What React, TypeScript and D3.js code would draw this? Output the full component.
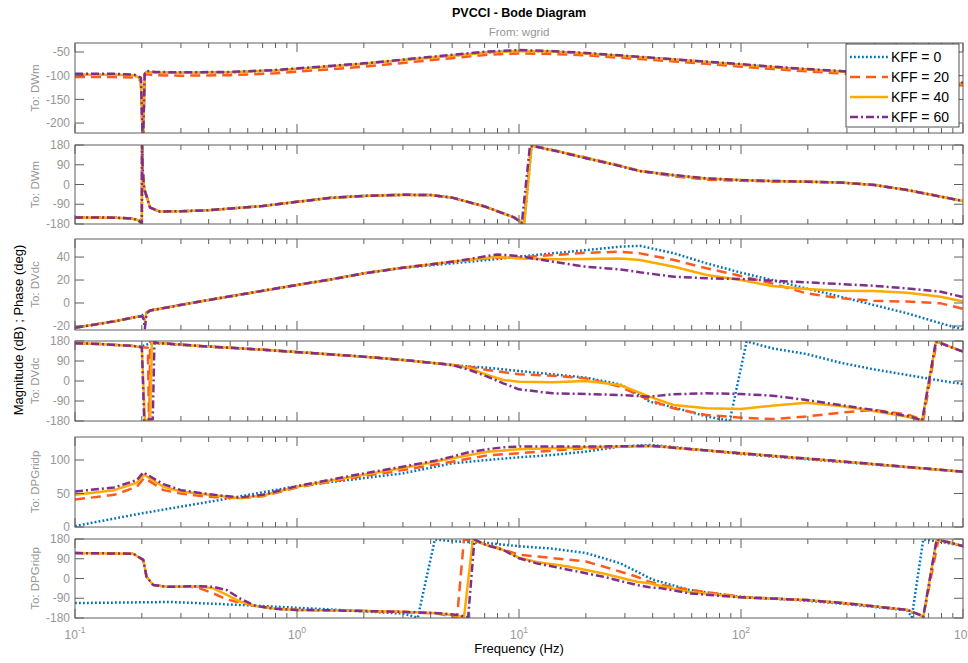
import React from "react";
import * as d3 from "d3";

type Pt = [number, number];

const seriesLabels = ["KFF = 0", "KFF = 20", "KFF = 40", "KFF = 60"];
const seriesColors = ["#0072bd", "#ff5a1e", "#ffaa00", "#7e2f8e"];
const seriesDash = ["1.8,2.2", "10,6", "", "8,3,2,3"];
const outputNames = ["To: DWm", "To: DWm", "To: DVdc", "To: DVdc", "To: DPGridp", "To: DPGridp"];
const decadeTicks = [0.1, 1, 10, 100, 1000];
const decadeExps = ["-1", "0", "1", "2", "3"];
const magTicksDWm = [-200, -150, -100, -50];
const magTicksDVdc = [-20, 0, 20, 40];
const magTicksDPG = [0, 50, 100];
const phaseTicks = [-180, -90, 0, 90, 180];

// --- To: DWm, magnitude (dB)
const magDWmK40: Pt[] = [[0.1,-98],[0.15,-98],[0.185,-99],[0.198,-106],[0.2015,-222],[0.203,-222],[0.206,-98],[0.21,-92],[0.23,-94],[0.3,-94],[0.5,-93],[0.8,-89],[1.27,-82],[2,-75],[3,-67],[5,-58],[7.2,-51],[10,-48],[14,-49],[20,-53],[35,-61],[50,-66],[70,-71],[100,-77],[140,-82],[200,-87],[280,-91],[500,-101],[1000,-117]];
const magDWmK0: Pt[] = [[0.1,-98],[0.15,-98],[0.185,-99],[0.198,-106],[0.2015,-222],[0.203,-222],[0.206,-98],[0.21,-92],[0.23,-94],[0.3,-94],[0.5,-93],[0.8,-89],[1.27,-82],[2,-75],[3,-67],[5,-58],[7.2,-51],[10,-48],[14,-49],[20,-53],[35,-61],[50,-66],[70,-71],[100,-77],[140,-82],[200,-87],[280,-91],[500,-101],[1000,-117]];
const magDWmK20: Pt[] = [[0.1,-103],[0.15,-103],[0.185,-104],[0.198,-110],[0.2015,-222],[0.203,-222],[0.206,-101],[0.21,-97],[0.23,-99],[0.3,-100],[0.5,-99],[0.8,-95],[1.27,-88],[2,-81],[3,-73],[5,-63],[7.2,-56],[10,-53],[14,-54],[20,-57],[35,-65],[50,-70],[70,-75],[100,-81],[140,-86],[200,-91],[280,-95],[500,-105],[1000,-121]];
const magDWmK60: Pt[] = [[0.1,-96],[0.15,-96],[0.185,-98],[0.198,-104],[0.2015,-222],[0.203,-222],[0.206,-96],[0.21,-90],[0.23,-92],[0.3,-93],[0.5,-92],[0.8,-88],[1.27,-81],[2,-74],[3,-66],[5,-56],[7.2,-49],[10,-46],[14,-48],[20,-52],[35,-60],[50,-65.5],[70,-70.5],[100,-75.5],[140,-81],[200,-86],[280,-90],[500,-100],[1000,-115]];

// --- To: DWm, phase (deg)
const phDWmK0: Pt[] = [[0.1,-150],[0.15,-151],[0.18,-155],[0.193,-163],[0.2,-178],[0.2005,179],[0.202,60],[0.205,-20],[0.218,-105],[0.241,-123],[0.3,-122],[0.4,-117],[0.7,-98],[1.4,-61],[2,-52],[3,-47],[4,-48],[5,-60],[7,-100],[9.5,-150],[10.55,-178],[11.4,176],[12,172],[15,151],[20,121],[28,87],[35,62],[50,40],[70,25],[100,19],[140,15],[200,12],[280,9],[400,-2],[560,-25],[800,-56],[1000,-75]];
const phDWmK20: Pt[] = [[0.1,-150],[0.15,-151],[0.18,-155],[0.193,-163],[0.2,-178],[0.2005,179],[0.202,60],[0.205,-20],[0.218,-105],[0.241,-123],[0.3,-122],[0.4,-117],[0.7,-98],[1.4,-61],[2,-52],[3,-47],[4,-48],[5,-60],[7,-100],[9.5,-150],[10.5,-178],[11.3,176],[12,172],[15,152],[20,123],[28,88],[35,62],[50,37],[70,22],[100,17],[140,14],[200,12],[280,9],[400,-2],[560,-25],[800,-56],[1000,-75]];
const phDWmK40: Pt[] = [[0.1,-150],[0.15,-151],[0.18,-155],[0.193,-163],[0.2,-178],[0.2005,179],[0.202,60],[0.205,-20],[0.218,-105],[0.241,-123],[0.3,-122],[0.4,-117],[0.7,-98],[1.4,-61],[2,-52],[3,-47],[4,-48],[5,-60],[7,-100],[9.5,-150],[10.55,-178],[11.4,176],[12,172],[15,151],[20,121],[28,87],[35,62],[50,42],[70,27],[100,20],[140,16],[200,13],[280,9],[400,-2],[560,-25],[800,-56],[1000,-75]];
const phDWmK60: Pt[] = [[0.1,-150],[0.15,-151],[0.18,-155],[0.193,-163],[0.2,-178],[0.2005,179],[0.202,60],[0.205,-20],[0.218,-105],[0.241,-123],[0.3,-122],[0.4,-117],[0.7,-98],[1.4,-61],[2,-52],[3,-47],[4,-48],[5,-60],[7,-100],[9.5,-150],[10.3,-176],[11.2,176],[12,172],[15,150],[20,120],[28,86],[35,61],[50,43],[70,28],[100,20],[140,16],[200,13],[280,9],[400,-2],[560,-25],[800,-56],[1000,-75]];

// --- To: DVdc, magnitude (dB)
const magDVdcK0: Pt[] = [[0.1,-21.5],[0.15,-16],[0.19,-12],[0.2,-11],[0.21,-8.5],[0.218,-6.5],[0.365,1.3],[0.5,5.8],[1,15.7],[1.4,20.3],[2,25.8],[3,30.7],[3.6,32],[5,34.5],[8,38.3],[10,40.3],[14.2,43.2],[20,46],[28.5,49],[35,49.8],[50,43.2],[70,34.5],[100,26.4],[138,20],[197,12.7],[280,5.5],[396,-1.7],[561,-9],[794,-17.7],[1000,-23]];
const magDVdcK20: Pt[] = [[0.1,-21.5],[0.15,-16],[0.19,-12],[0.2,-11.5],[0.203,-13],[0.206,-14],[0.21,-8],[0.218,-6.5],[0.365,1.3],[0.5,5.8],[1,15.7],[1.4,20.3],[2,25.8],[3,30.7],[5,35.9],[8,39.7],[10,39.7],[14.2,41.7],[20,43.7],[28.5,44.6],[35,43.2],[50,37.4],[70,30.2],[100,23.5],[138,17.1],[197,8.4],[280,4.1],[396,2],[561,1.2],[794,-0.3],[1000,-5]];
const magDVdcK40: Pt[] = [[0.1,-21.5],[0.15,-16],[0.19,-12],[0.2,-11.5],[0.203,-13],[0.206,-15],[0.21,-8],[0.218,-6.5],[0.365,1.3],[0.5,5.8],[1,15.7],[1.4,20.3],[2,25.8],[3,30.7],[5,35.9],[8,40.3],[10,38.8],[14.2,38],[20,38.3],[28.5,38.8],[35,37.4],[50,31.6],[70,24.3],[100,20],[138,14.8],[197,12.2],[280,10.7],[396,10.4],[561,9],[794,5.5],[1000,1.2]];
const magDVdcK60: Pt[] = [[0.1,-21.5],[0.15,-16],[0.19,-12],[0.2,-11.5],[0.203,-13],[0.2065,-22],[0.21,-9],[0.218,-6.5],[0.365,1.3],[0.5,5.8],[1,15.7],[1.4,20.3],[2,25.8],[3,30.7],[5,35.9],[8,42.3],[10,40.9],[14.2,35.9],[20,31.6],[28.5,29.3],[35,26.7],[50,22.9],[70,21.5],[100,20.9],[138,19.4],[197,18],[280,16.5],[396,15],[561,12.7],[794,9.8],[1000,5.2]];

// --- To: DVdc, phase (deg)
const phDVdcK0: Pt[] = [[0.1,170],[0.13,166.5],[0.183,157.5],[0.2,154],[0.205,160],[0.215,167],[0.233,170],[0.365,157.5],[0.73,139.5],[1.4,120],[2,109.5],[3,94.5],[4,82.4],[5,72],[6,64.5],[7.2,60],[10,45],[14.2,30],[20,15],[28.5,-15],[35,-63],[38.7,-93],[49.6,-118],[70,-160],[82,-172],[89,-178],[106,178],[138,147],[197,121.5],[280,82.5],[396,52.5],[561,27],[794,1.5],[1000,-13.5]];
const phDVdcK20: Pt[] = [[0.1,170],[0.13,166.5],[0.183,157.5],[0.2,152],[0.213,150],[0.2155,-178],[0.2165,-178],[0.218,178],[0.233,171],[0.365,157.5],[0.73,139.5],[1.4,120],[2,109.5],[3,94.5],[4,82.4],[5,72],[6,64.5],[7.2,49.5],[10,30],[14.2,24],[20,12],[28.5,-25.5],[38.7,-85.5],[49.6,-123],[70,-153],[100,-165],[138,-171],[197,-160],[280,-142.5],[396,-130.5],[561,-150],[662,-176],[761,178],[1000,132]];
const phDVdcK40: Pt[] = [[0.1,170],[0.13,166.5],[0.183,157.5],[0.2,152],[0.2065,-178],[0.218,-176],[0.222,178],[0.233,171],[0.365,157.5],[0.73,139.5],[1.4,120],[2,109.5],[3,94.5],[4,82.4],[5,72],[6,57],[7.2,27],[8.5,4.5],[10,-3],[14.2,-5.5],[20,0],[28.5,-18],[38.7,-70.5],[49.6,-108],[70,-123],[100,-126],[138,-111],[197,-97.5],[280,-112.5],[396,-135],[561,-160.5],[655,-177],[755,178],[1000,132]];
const phDVdcK60: Pt[] = [[0.1,170],[0.13,166.5],[0.183,157.5],[0.2,152],[0.205,-178],[0.212,-172],[0.224,-172],[0.228,178],[0.233,172],[0.365,157.5],[0.73,139.5],[1.4,120],[2,109.5],[3,94.5],[4,82.4],[5,72],[6,49.5],[7.2,19.5],[8.5,-10.5],[10,-37.5],[14.2,-55.5],[20,-58.5],[28.5,-63],[38.7,-70.5],[49.6,-60],[70,-55.5],[100,-58.5],[138,-66],[197,-85.5],[280,-108],[396,-130.5],[561,-157.5],[655,-177],[755,178],[1000,132]];

// --- To: DPGridp, magnitude (dB)
const magDPGK0: Pt[] = [[0.1,1.5],[0.2,20.4],[0.5,43],[1,61],[1.27,65],[2,73],[3,80],[5,95],[7.2,100],[10,104],[14.2,107.5],[20,112.5],[28.5,120],[38.7,122.4],[44,121],[100,109],[296,96.5],[1000,82.5]];
const magDPGK20: Pt[] = [[0.1,41],[0.15,48],[0.19,60],[0.205,73.5],[0.25,55],[0.3,50],[0.4,45],[0.55,43],[0.7,46],[1,59],[1.27,65],[2,76],[3,85],[5,97.5],[7.2,107],[10,110],[14.2,114],[20,117.5],[30,120],[40,121],[100,109.5],[296,97],[1000,82.5]];
const magDPGK40: Pt[] = [[0.1,48],[0.15,55],[0.19,66],[0.205,78],[0.25,60],[0.3,53],[0.4,48],[0.55,43],[0.7,47],[1,60],[1.27,66.5],[2,78],[3,88],[5,102.5],[7.2,112.4],[10,116],[20,119],[40,121],[100,110],[296,97.5],[1000,82.5]];
const magDPGK60: Pt[] = [[0.1,53],[0.15,59],[0.19,70],[0.203,81.5],[0.25,64],[0.3,55],[0.4,49],[0.55,44],[0.7,48],[1,61],[1.27,67.5],[2,80],[3,90],[4.2,99],[5,105],[6,112],[7.2,116],[8.5,119],[10,120],[20,120],[40,121],[100,110],[296,97.5],[1000,82.5]];

// --- To: DPGridp, phase (deg)
const phDPGK0: Pt[] = [[0.1,-112],[0.27,-107],[0.6,-122],[1.4,-141],[3,-160],[3.5,-178],[4.18,178],[5,170],[7.1,162],[10,147],[14.2,136],[20,116],[28.5,70],[34,31],[40,-5],[59,-53],[100,-83],[197,-101],[296,-116],[560,-145],[588,-176],[662,178],[776,170],[1000,147]];
const phDPGK20: Pt[] = [[0.1,116],[0.183,113],[0.203,85],[0.21,8],[0.225,-30],[0.26,-38],[0.33,-38],[0.365,-45],[0.42,-68],[0.483,-95],[0.553,-110],[0.65,-125],[0.8,-138],[1,-143],[1.4,-145],[3,-152],[4.3,-160],[5,-173],[5.26,-178],[5.65,178],[6.2,173],[7.1,155],[8.5,132],[10,108],[14.2,93],[20,77.6],[24,54.5],[34,8],[38.7,-15],[44,-30],[59,-52],[100,-84],[197,-98],[296,-113],[560,-143],[640,-166],[662,-176],[775,178],[1000,148]];
const phDPGK40: Pt[] = [[0.1,116],[0.183,113],[0.203,85],[0.21,8],[0.225,-30],[0.26,-38],[0.365,-36],[0.42,-45],[0.483,-75],[0.553,-105],[0.65,-125],[0.8,-138],[1,-143],[1.4,-145],[3,-152],[4.3,-158],[5.3,-170],[5.65,-178],[6.2,178],[7.1,153],[8.5,130],[10,95],[12,75],[16.9,54],[24,23],[34,-15],[38.7,-22],[44,-35],[59,-62],[100,-85],[197,-98],[296,-113],[560,-143],[640,-166],[662,-176],[761,178],[1000,148]];
const phDPGK60: Pt[] = [[0.1,116],[0.183,113],[0.203,85],[0.21,8],[0.225,-30],[0.26,-38],[0.365,-35],[0.42,-38],[0.483,-53],[0.553,-91],[0.65,-125],[0.8,-138],[1,-143],[1.4,-145],[3,-152],[4.3,-158],[5.3,-166],[5.9,-178],[6.3,178],[7.1,153],[8.5,130],[10,92],[12,69],[16.9,39],[24,8],[34,-30],[38.7,-40],[44,-45],[59,-68],[100,-86],[197,-98],[296,-113],[560,-143],[640,-166],[662,-176],[761,178],[1000,148]];

const X0 = 75;
const X1 = 963;
const font = "'Liberation Sans', Arial, Helvetica, sans-serif";
const gray = "#969696";
const axisColor = "#5f5f5f";

const panels = [
  { top: 43, bottom: 133, domain: [-221, -31], ticks: magTicksDWm, series: [magDWmK0, magDWmK20, magDWmK40, magDWmK60] },
  { top: 145, bottom: 224, domain: [-180, 180], ticks: phaseTicks, series: [phDWmK0, phDWmK20, phDWmK40, phDWmK60] },
  { top: 239, bottom: 330, domain: [-23.5, 55.7], ticks: magTicksDVdc, series: [magDVdcK0, magDVdcK20, magDVdcK40, magDVdcK60] },
  { top: 341, bottom: 421, domain: [-180, 180], ticks: phaseTicks, series: [phDVdcK0, phDVdcK20, phDVdcK40, phDVdcK60] },
  { top: 437, bottom: 527, domain: [0, 134.3], ticks: magTicksDPG, series: [magDPGK0, magDPGK20, magDPGK40, magDPGK60] },
  { top: 539, bottom: 618, domain: [-180, 180], ticks: phaseTicks, series: [phDPGK0, phDPGK20, phDPGK40, phDPGK60] },
];

const App = () => {
  const x = d3.scaleLog().domain([0.1, 1000]).range([X0, X1]);
  const minor: number[] = [];
  decadeTicks.slice(0, 4).forEach((d) => {
    for (let m = 2; m < 10; m++) minor.push(d * m);
  });

  return (
    <svg width={968} height={663} style={{ position: "absolute", left: 0, top: 0, background: "#fff" }} fontFamily={font}>
      <text x={519} y={17} textAnchor="middle" fontSize={12.5} fontWeight="bold" fill="#000">PVCCI - Bode Diagram</text>
      <text x={519} y={36} textAnchor="middle" fontSize={11.5} fill={gray}>From: wgrid</text>

      {panels.map((p, i) => {
        const y = d3.scaleLinear().domain(p.domain).range([p.bottom, p.top]);
        const line = d3.line<Pt>().x((d) => x(d[0])).y((d) => y(d[1]));
        const mid = (p.top + p.bottom) / 2;
        return (
          <g key={i}>
            <defs>
              <clipPath id={`clip${i}`}>
                <rect x={X0} y={p.top} width={X1 - X0} height={p.bottom - p.top} />
              </clipPath>
            </defs>
            <g clipPath={`url(#clip${i})`}>
              {p.series.map((s, k) => (
                <path key={k} d={line(s) || ""} fill="none" stroke={seriesColors[k]} strokeWidth={2.5}
                  strokeDasharray={seriesDash[k] || undefined} strokeLinejoin="round" />
              ))}
            </g>
            <rect x={X0} y={p.top} width={X1 - X0} height={p.bottom - p.top} fill="none" stroke={axisColor} strokeWidth={1} />
            {decadeTicks.map((t) => (
              <g key={`M${t}`} stroke={axisColor}>
                <line x1={x(t)} x2={x(t)} y1={p.top} y2={p.top + 9} />
                <line x1={x(t)} x2={x(t)} y1={p.bottom} y2={p.bottom - 9} />
              </g>
            ))}
            {minor.map((t) => (
              <g key={`m${t}`} stroke={axisColor}>
                <line x1={x(t)} x2={x(t)} y1={p.top} y2={p.top + 5} />
                <line x1={x(t)} x2={x(t)} y1={p.bottom} y2={p.bottom - 5} />
              </g>
            ))}
            {p.ticks.map((t) => (
              <g key={`y${t}`}>
                <line x1={X0} x2={X0 + 9} y1={y(t)} y2={y(t)} stroke={axisColor} />
                <line x1={X1} x2={X1 - 9} y1={y(t)} y2={y(t)} stroke={axisColor} />
                <text x={70} y={y(t)} dy="0.35em" textAnchor="end" fontSize={12} fill={gray}>{t}</text>
              </g>
            ))}
            <text transform={`translate(39,${mid}) rotate(-90)`} textAnchor="middle" fontSize={11.5} fill={gray}>{outputNames[i]}</text>
          </g>
        );
      })}

      {decadeTicks.map((t, i) => (
        <text key={`xl${t}`} x={x(t)} y={639} textAnchor="middle" fontSize={12} fill={gray}>
          10<tspan dy={-6} fontSize={8.5}>{decadeExps[i]}</tspan>
        </text>
      ))}
      <text x={519} y={653} textAnchor="middle" fontSize={13} fill="#000">Frequency  (Hz)</text>
      <text transform={`translate(23,330) rotate(-90)`} textAnchor="middle" fontSize={13} fill="#000">Magnitude (dB) ; Phase (deg)</text>

      <g>
        <rect x={846} y={44} width={113} height={83} fill="#fff" stroke="#262626" strokeWidth={0.8} />
        {seriesLabels.map((s, k) => {
          const ly = 57 + k * 20;
          return (
            <g key={s}>
              <line x1={850} x2={888} y1={ly} y2={ly} stroke={seriesColors[k]} strokeWidth={2.5}
                strokeDasharray={seriesDash[k] || undefined} />
              <text x={891} y={ly} dy="0.36em" fontSize={14} fill="#000">{s}</text>
            </g>
          );
        })}
      </g>
    </svg>
  );
};

export default App;
